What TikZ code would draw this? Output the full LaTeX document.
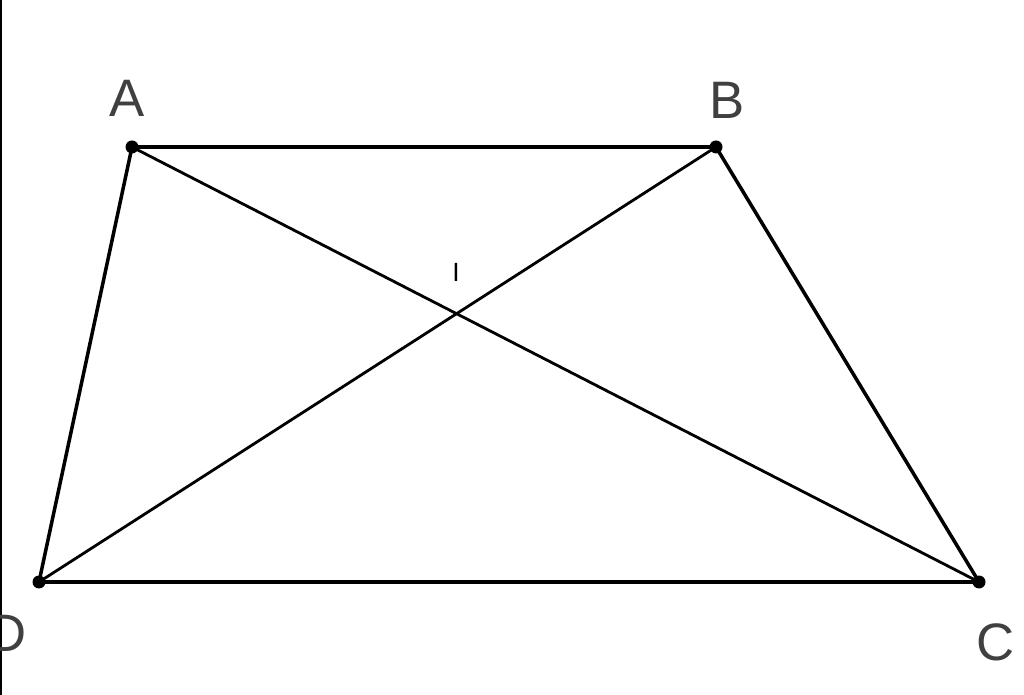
\documentclass[tikz,border=0pt]{standalone}
\usepackage{fontspec}
\setmainfont{Liberation Sans}
\usepackage{tikz}
\usetikzlibrary{positioning}

\begin{document}
\begin{tikzpicture}[x=0.02cm, y=-0.02cm,
    vertexlabel/.style={text=black!75, font=\fontsize{30}{30}\selectfont, inner sep=0pt},
    edge/.style={line width=2pt, black},
    dot/.style={circle, fill=black, inner sep=0pt, minimum size=0.26cm}]

        \useasboundingbox (0,0) rectangle (1024,695);
        \draw[line width=1.2pt] (1,0) -- (1,695);

        \coordinate (A) at (132,147);
        \coordinate (B) at (716,147);
        \coordinate (C) at (979,582);
        \coordinate (D) at (39,582);

        \draw[edge] (A) -- (B) -- (C) -- (D) -- cycle;
        \draw[edge, line width=1.6pt] (A) -- (C);
        \draw[edge, line width=1.6pt] (B) -- (D);

        \node[dot] (a) at (A) {};
        \node[dot] (b) at (B) {};
        \node[dot] (c) at (C) {};
        \node[dot] (d) at (D) {};

        \node[vertexlabel] (la) at (127,98) {A};
        \node[vertexlabel] (lb) at (727,100) {B};
        \node[vertexlabel] (lc) at (996,642) {C};
        \node[vertexlabel] (ld) at (8,633) {D};
        \node[vertexlabel, text=black, font=\fontsize{15}{15}\selectfont] (li) at (456,272) {I};

\end{tikzpicture}
\end{document}
